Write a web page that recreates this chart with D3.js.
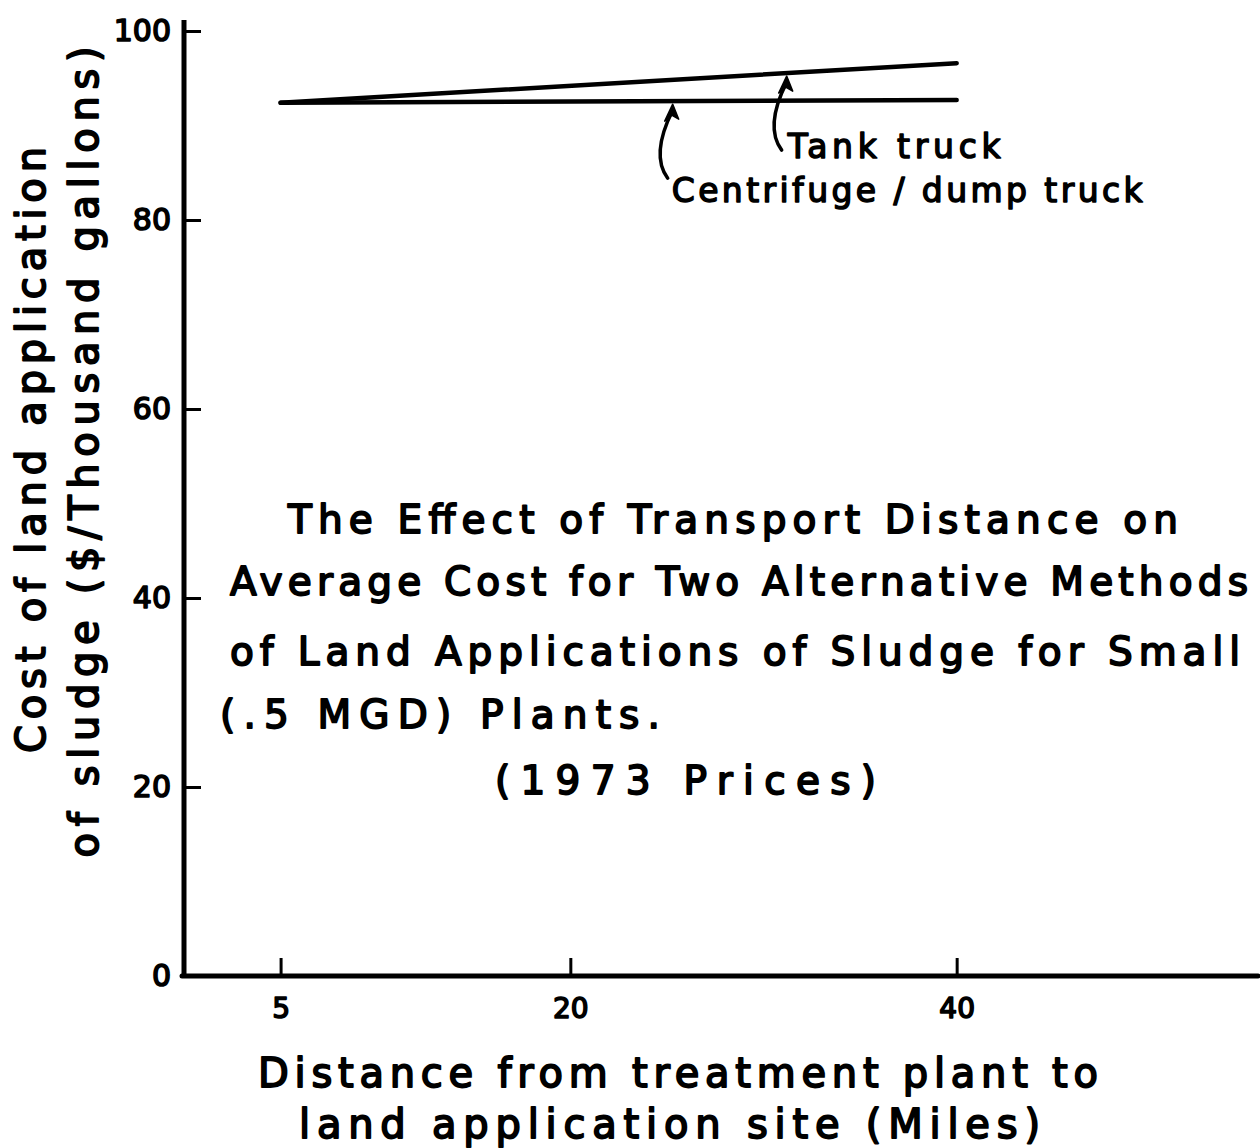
<!DOCTYPE html>
<html>
<head>
<meta charset="utf-8">
<script src="https://cdn.jsdelivr.net/npm/d3@7"></script>
<style>
  body { margin: 0; background: #fff; }
  svg { display: block; }
  text { font-family: "DejaVu Sans", sans-serif; fill: #000; }
</style>
</head>
<body>
<div id="plot-container"></div>
<script>
// Values
const distances = [5, 40];                 // miles
const tankTruck = [92.4, 96.6];            // $ / thousand gallons
const centrifugeDump = [92.4, 92.7];
const xTicks = [5, 20, 40];
const yTicks = [0, 20, 40, 60, 80, 100];

const titleLines = [
  "The Effect of Transport Distance on",
  "Average Cost for Two Alternative Methods",
  "of Land Applications of Sludge for Small",
  "(.5 MGD) Plants.",
  "(1973 Prices)"
];
const xLabelLines = ["Distance from treatment plant to", "land application site (Miles)"];
const yLabelLines = ["Cost of land application", "of sludge ($/Thousand gallons)"];

// where each label's arrow points (miles along its line)
const seriesLabels = ["Tank truck", "Centrifuge / dump truck"];
const arrowAt = [31.2, 25.3];

const width = 1260, height = 1148;

const svg = d3.select("#plot-container").append("svg")
  .attr("width", width)
  .attr("height", height);

const xScale = d3.scaleLinear().domain([0, 55.6]).range([184, 1258]);
const yScale = d3.scaleLinear().domain([0, 100]).range([976, 31]);

// ink-like text: thin stroke thickens the glyphs a bit
function inked(sel, sw) {
  return sel.attr("stroke", "#000").attr("stroke-width", sw).attr("stroke-linejoin", "round");
}

// y axis, ticks pointing inwards
const yAxis = svg.append("g")
  .attr("transform", `translate(${xScale(0)},0)`)
  .call(d3.axisLeft(yScale).tickValues(yTicks).tickSize(-17).tickSizeOuter(0).tickPadding(13));
yAxis.select(".domain").remove();
yAxis.selectAll(".tick line").attr("stroke", "#000").attr("stroke-width", 3);
yAxis.selectAll(".tick text")
  .attr("font-size", 30)
  .attr("font-family", "DejaVu Sans")
  .call(inked, 1.6);
// the hand-drawn axis runs slightly past the top tick
svg.append("line")
  .attr("x1", xScale(0)).attr("x2", xScale(0))
  .attr("y1", yScale(0) + 2).attr("y2", yScale(100) - 11)
  .attr("stroke", "#000").attr("stroke-width", 5);

// x axis, ticks pointing up
const xAxis = svg.append("g")
  .attr("transform", `translate(0,${yScale(0)})`)
  .call(d3.axisBottom(xScale).tickValues(xTicks).tickSize(-18).tickSizeOuter(0).tickPadding(22));
xAxis.select(".domain").remove();
xAxis.selectAll(".tick line").attr("stroke", "#000").attr("stroke-width", 3);
xAxis.selectAll(".tick text")
  .attr("font-size", 28)
  .attr("font-family", "DejaVu Sans")
  .call(inked, 1.6);
svg.append("line")
  .attr("x1", xScale(0) - 2).attr("x2", xScale.range()[1])
  .attr("y1", yScale(0)).attr("y2", yScale(0))
  .attr("stroke", "#000").attr("stroke-width", 5)
  .attr("stroke-linecap", "round");

// the two cost lines
const line = d3.line().x(d => xScale(d[0])).y(d => yScale(d[1]));
const series = [tankTruck, centrifugeDump];
series.forEach(vals => {
  svg.append("path")
    .datum(distances.map((d, i) => [d, vals[i]]))
    .attr("fill", "none")
    .attr("stroke", "#000")
    .attr("stroke-width", 4.5)
    .attr("stroke-linecap", "round")
    .attr("d", line);
});

// curved arrows + labels
const labelOffsets = [
  { dx: 2, dy: 82, len: 213 },
  { dx: 0, dy: 98, len: 471 }
];
series.forEach((vals, i) => {
  const m = arrowAt[i];
  const v = d3.scaleLinear().domain(distances).range(vals)(m);
  const tx = xScale(m), ty = yScale(v) + 3;
  const bx = tx - 5, by = ty + 74;
  svg.append("path")
    .attr("fill", "none")
    .attr("stroke", "#000")
    .attr("stroke-width", 3.5)
    .attr("stroke-linecap", "round")
    .attr("d", `M${bx},${by} C${bx - 12},${by - 16} ${tx - 14},${ty + 34} ${tx},${ty + 6}`);
  svg.append("path")
    .attr("fill", "#000")
    .attr("stroke", "#000")
    .attr("stroke-width", 1.5)
    .attr("stroke-linejoin", "round")
    .attr("d", `M${tx},${ty} L${tx - 8},${ty + 17} L${tx - 1},${ty + 11} L${tx + 6},${ty + 15} Z`);
  const o = labelOffsets[i];
  svg.append("text")
    .attr("x", bx + o.dx + 4)
    .attr("y", ty + o.dy)
    .attr("font-size", 33)
    .attr("textLength", o.len)
    .attr("lengthAdjust", "spacing")
    .call(inked, 1.5)
    .text(seriesLabels[i]);
});

// title block inside the plot
const titlePos = [
  { x: 288, y: 533, len: 890 },
  { x: 230, y: 595, len: 1018 },
  { x: 230, y: 665, len: 1010 },
  { x: 220, y: 728, len: 440 },
  { x: 495, y: 794, len: 381 }
];
svg.append("g").selectAll("text")
  .data(titleLines)
  .join("text")
  .attr("x", (d, i) => titlePos[i].x)
  .attr("y", (d, i) => titlePos[i].y)
  .attr("font-size", 39)
  .attr("textLength", (d, i) => titlePos[i].len)
  .attr("lengthAdjust", "spacing")
  .call(inked, 1.8)
  .text(d => d);

// x axis title
const xLabPos = [
  { x: 258, y: 1087, len: 840 },
  { x: 299, y: 1138, len: 741 }
];
svg.append("g").selectAll("text")
  .data(xLabelLines)
  .join("text")
  .attr("x", (d, i) => xLabPos[i].x)
  .attr("y", (d, i) => xLabPos[i].y)
  .attr("font-size", 40)
  .attr("textLength", (d, i) => xLabPos[i].len)
  .attr("lengthAdjust", "spacing")
  .call(inked, 1.8)
  .text(d => d);

// y axis title, two rotated lines
const yLabPos = [
  { x: 45, y: 450, len: 606 },
  { x: 98, y: 452, len: 811 }
];
svg.append("g").selectAll("text")
  .data(yLabelLines)
  .join("text")
  .attr("transform", (d, i) => `translate(${yLabPos[i].x},${yLabPos[i].y}) rotate(-90)`)
  .attr("text-anchor", "middle")
  .attr("font-size", 40)
  .attr("textLength", (d, i) => yLabPos[i].len)
  .attr("lengthAdjust", "spacing")
  .call(inked, 1.8)
  .text(d => d);
</script>
</body>
</html>
